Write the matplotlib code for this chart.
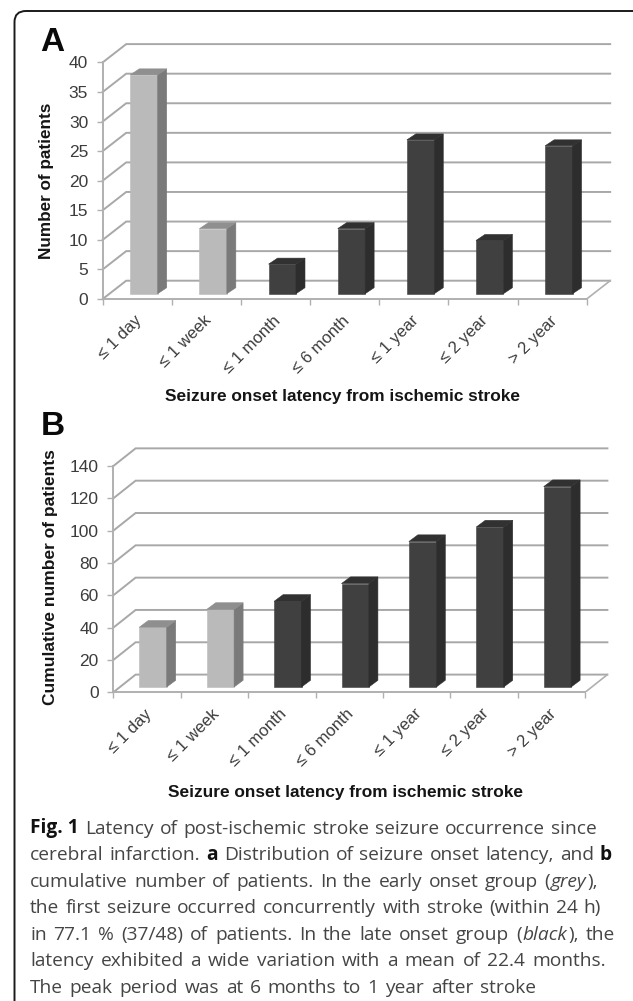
import matplotlib
matplotlib.use("Agg")
import matplotlib.pyplot as plt
from matplotlib.patches import Polygon, PathPatch
from matplotlib.path import Path

W, H = 633, 1001
categories = ["≤ 1 day", "≤ 1 week", "≤ 1 month", "≤ 6 month", "≤ 1 year", "≤ 2 year", "> 2 year"]
counts = [37, 11, 5, 11, 26, 9, 25]
cumulative = [37, 48, 53, 64, 90, 99, 124]
early_group = [True, True, False, False, False, False, False]
ticks_a = [0, 5, 10, 15, 20, 25, 30, 35, 40]
ticks_b = [0, 20, 40, 60, 80, 100, 120, 140]
xlabel_text = "Seizure onset latency from ischemic stroke"
ylabel_a = "Number of patients"
ylabel_b = "Cumulative number of patients"
caption_lines = [
    [("Fig. 1", "b"), ("Latency", "r"), ("of", "r"), ("post-ischemic", "r"), ("stroke", "r"), ("seizure", "r"), ("occurrence", "r"), ("since", "r")],
    [("cerebral", "r"), ("infarction.", "r"), ("a", "b"), ("Distribution", "r"), ("of", "r"), ("seizure", "r"), ("onset", "r"), ("latency,", "r"), ("and", "r"), ("b", "b")],
    [("cumulative", "r"), ("number", "r"), ("of", "r"), ("patients.", "r"), ("In", "r"), ("the", "r"), ("early", "r"), ("onset", "r"), ("group", "r"), ("(", "r+"), ("grey", "i+"), ("),", "r")],
    [("the", "r"), ("first", "r"), ("seizure", "r"), ("occurred", "r"), ("concurrently", "r"), ("with", "r"), ("stroke", "r"), ("(within", "r"), ("24", "r"), ("h)", "r")],
    [("in", "r"), ("77.1", "r"), ("%", "r"), ("(37/48)", "r"), ("of", "r"), ("patients.", "r"), ("In", "r"), ("the", "r"), ("late", "r"), ("onset", "r"), ("group", "r"), ("(", "r+"), ("black", "i+"), ("),", "r"), ("the", "r")],
    [("latency", "r"), ("exhibited", "r"), ("a", "r"), ("wide", "r"), ("variation", "r"), ("with", "r"), ("a", "r"), ("mean", "r"), ("of", "r"), ("22.4", "r"), ("months.", "r")],
    [("The", "r"), ("peak", "r"), ("period", "r"), ("was", "r"), ("at", "r"), ("6", "r"), ("months", "r"), ("to", "r"), ("1", "r"), ("year", "r"), ("after", "r"), ("stroke", "r")],
]
plt.rcParams["font.family"] = ["Liberation Sans", "DejaVu Sans"]
fig = plt.figure(figsize=(W / 100, H / 100), dpi=100, facecolor="white")

# page-level layer in pixel coordinates
bg = fig.add_axes([0, 0, 1, 1], zorder=0)
bg.set_xlim(0, W); bg.set_ylim(H, 0); bg.axis("off")
frame = Path([(14.5, H + 2), (14.5, 22), (14.5, 11), (26, 11), (W + 2, 11)],
             [Path.MOVETO, Path.LINETO, Path.CURVE3, Path.CURVE3, Path.LINETO])
bg.add_patch(PathPatch(frame, fc="none", ec="#1a1a1a", lw=1.4))

GRID = "#a8a8a8"
AXC = "#b0b0b0"
TXT = "#3c3c3c"

def panel(values, ticks, ylabel, x0, y0, step, unit, dx, dy, bar_l, bar_w, bar_dx, bar_dy, bar_lift,
          lab_x, lab_y, ylab_x, ylab_y, xlab_fs, ylab_fs, pad, lab_shift):
    right = x0 + 7 * step + dx + 1
    top = y0 - ticks[-1] * unit - dy - 2
    ax = fig.add_axes([x0 / W, 1 - y0 / H, (right - x0) / W, (y0 - top) / H], zorder=1)
    ax.patch.set_alpha(0)
    ax.set_xlim(0, (right - x0) / step)
    ax.set_ylim(0, (y0 - top) / unit)
    ddx, ddy = dx / step, dy / unit
    # walls and floor
    for t in ticks:
        ax.plot([0, ddx, 7 + ddx], [t, t + ddy, t + ddy], color=GRID, lw=1.4, zorder=1,
                solid_joinstyle="miter", clip_on=False)
    ax.plot([7, 7 + ddx], [0, ddy], color=AXC, lw=1.2, zorder=1)
    # bars
    bw, bdx, bdy = bar_w / step, bar_dx / step, bar_dy / unit
    lift = bar_lift / unit
    for i, v in enumerate(values):
        l = i + bar_l / step
        r = l + bw
        base = lift
        top_v = lift + v
        front, side, cap = ("#bababa", "#7a7a7a", "#8f8f8f") if early_group[i] else ("#404040", "#2d2d2d", "#313131")
        ax.add_patch(Polygon([(l, base), (r, base), (r, top_v), (l, top_v)], fc=front, ec=front, lw=0.4, zorder=3))
        ax.add_patch(Polygon([(r, base), (r + bdx, base + bdy), (r + bdx, top_v + bdy), (r, top_v)], fc=side, ec=side, lw=0.4, zorder=3))
        ax.add_patch(Polygon([(l, top_v), (r, top_v), (r + bdx, top_v + bdy), (l + bdx, top_v + bdy)], fc=cap, ec=cap, lw=0.4, zorder=3))
    for s in ("top", "right"):
        ax.spines[s].set_visible(False)
    ax.spines["left"].set_bounds(0, ticks[-1])
    ax.spines["bottom"].set_bounds(0, 7)
    for s in ("left", "bottom"):
        ax.spines[s].set_color(AXC)
        ax.spines[s].set_linewidth(1.4)
    ax.set_yticks(ticks)
    ax.tick_params(axis="y", length=4, width=1, color=AXC, labelsize=12.5, labelcolor=TXT, pad=6.5)
    ax.set_xticks(range(8))
    ax.set_xticklabels([])
    ax.tick_params(axis="x", which="major", direction="out", length=4, width=1, color=AXC)
    ax.set_xticks([i + 0.5 - lab_shift / step for i in range(7)], minor=True)
    ax.set_xticklabels(categories, minor=True, rotation=45, ha="right", va="top",
                       rotation_mode="anchor", fontsize=12, color=TXT)
    ax.tick_params(axis="x", which="minor", length=0, pad=pad)
    ax.set_xlabel(xlabel_text, fontsize=xlab_fs, fontweight="bold", color="#151515")
    ax.xaxis.set_label_coords((lab_x - x0) / (right - x0), (y0 - lab_y) / (y0 - top))
    ax.xaxis.label.set_verticalalignment("center")
    ax.set_ylabel(ylabel, fontsize=ylab_fs, fontweight="bold", color="#151515")
    ax.yaxis.set_label_coords((ylab_x - x0) / (right - x0), (y0 - ylab_y) / (y0 - top))
    ax.yaxis.label.set_verticalalignment("center")
    return ax

panel(counts, ticks_a, ylabel_a, 102.7, 299, 69.14, 5.915, 23.5, 18.3,
      27.6, 27.4, 9, 6, 5.3, 342.5, 396, 46.5, 181, 12.4, 12.3, 10, 3)
panel(cumulative, ticks_b, ylabel_b, 113.3, 692.3, 67.4, 1.616, 22.3, 17.7,
      26, 27.4, 9, 6.7, 5.3, 346, 792, 50, 577, 12.4, 12.5, 10, 3)

bg.text(40.5, 51, "A", fontsize=24, fontweight="bold", color="#0a0a0a", ha="left", va="baseline")
bg.text(41, 435, "B", fontsize=24, fontweight="bold", color="#0a0a0a", ha="left", va="baseline")

# justified caption
CAP_L = 30
CAP_FS = 13.8
BASE0, LEAD = 833.5, 26.55
styles = {"r": dict(fontweight="normal"), "b": dict(fontweight="bold"), "i": dict(fontstyle="italic", fontweight="normal")}
styles["r+"], styles["i+"] = styles["r"], styles["i"]
renderer = fig.canvas.get_renderer()
right_edges = [597, 611.7, 598, 601, 615, 605.7, 535.7]

def place(word, st, x, y):
    return bg.text(x, y, word, fontsize=CAP_FS, family=["Open Sans", "DejaVu Sans"], color="#454545" if st[0] != "b" else "#111111",
                   ha="left", va="baseline", **styles[st])

for n, line in enumerate(caption_lines):
    y = BASE0 + n * LEAD
    widths = []
    for w, st in line:
        t = place(w, st, 0, y)
        widths.append(t.get_window_extent(renderer).width)
        t.remove()
    glued = sum(1 for w, st in line if st.endswith("+"))
    gaps = len(line) - 1 - glued
    gap = (right_edges[n] - CAP_L - sum(widths) - glued) / gaps
    x = CAP_L
    for (w, st), wd in zip(line, widths):
        place(w, st, x, y)
        x += wd + (1 if st.endswith("+") else gap)

fig.savefig("out.png", dpi=100, facecolor="white")
